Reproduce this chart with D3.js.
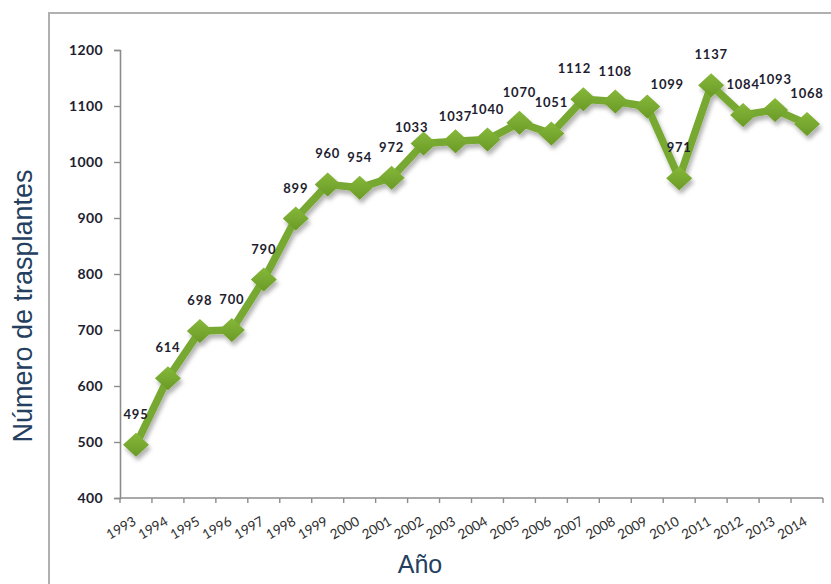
<!DOCTYPE html>
<html>
<head>
<meta charset="utf-8">
<script src="https://cdn.jsdelivr.net/npm/d3@7"></script>
<style>
  html, body { margin: 0; padding: 0; background: #fff; }
  svg { display: block; }
</style>
</head>
<body>
<svg id="chart" width="831" height="584"></svg>
<script>
// Trasplantes realizados por año
const years = ["1993","1994","1995","1996","1997","1998","1999","2000","2001","2002","2003",
               "2004","2005","2006","2007","2008","2009","2010","2011","2012","2013","2014"];
const transplants = [495, 614, 698, 700, 790, 899, 960, 954, 972, 1033, 1037,
                     1040, 1070, 1051, 1112, 1108, 1099, 971, 1137, 1084, 1093, 1068];
const yTicks = [400, 500, 600, 700, 800, 900, 1000, 1100, 1200];

// label nudges where the default spot would collide with the line
const labelNudge = { "2002": [-12, 14], "2003": [0, 6], "2007": [-9, 0], "2009": [20, 8] };

const svg = d3.select("#chart");
const plot = { left: 120, right: 823, top: 50, bottom: 498 };

// outer frame (left and top edges)
svg.append("path")
  .attr("d", "M49,584 L49,13 L831,13")
  .attr("fill", "none").attr("stroke", "#b0b0b0").attr("stroke-width", 2);

const x = d3.scaleBand().domain(years).range([plot.left, plot.right]).padding(0);
const y = d3.scaleLinear().domain([400, 1200]).range([plot.bottom, plot.top]);

const defs = svg.append("defs");
const shadow = defs.append("filter").attr("id", "shadow")
  .attr("x", "-20%").attr("y", "-20%").attr("width", "140%").attr("height", "140%");
shadow.append("feDropShadow").attr("dx", 2).attr("dy", 4).attr("stdDeviation", 2.2)
  .attr("flood-color", "#000").attr("flood-opacity", 0.3);
const grad = defs.append("linearGradient").attr("id", "mk")
  .attr("x1", 0).attr("y1", 0).attr("x2", 0).attr("y2", 1);
grad.append("stop").attr("offset", "0%").attr("stop-color", "#86b83a");
grad.append("stop").attr("offset", "100%").attr("stop-color", "#6a9a26");

// y axis
const yAxis = svg.append("g")
  .attr("transform", `translate(${plot.left},0)`)
  .call(d3.axisLeft(y).tickValues(yTicks).tickSize(6).tickPadding(11).tickFormat(d3.format("d")));
yAxis.select(".domain").attr("stroke", "#8c8c8c").attr("stroke-width", 1.6);
yAxis.selectAll(".tick line").attr("stroke", "#8c8c8c").attr("stroke-width", 1.4);
yAxis.selectAll(".tick text")
  .attr("fill", "#1e1e30")
  .style("font-family", "Lato, 'Open Sans', sans-serif")
  .style("font-weight", 700)
  .style("font-size", "14px")
  .style("letter-spacing", "0.4px");

// x axis: ticks on the category boundaries
const xAxis = svg.append("g").attr("transform", `translate(0,${plot.bottom})`);
xAxis.append("line")
  .attr("x1", plot.left).attr("x2", plot.right)
  .attr("stroke", "#8c8c8c").attr("stroke-width", 1.6);
const bounds = years.map(d => x(d)).concat([x(years[years.length - 1]) + x.bandwidth()]);
xAxis.selectAll("line.tick").data(bounds).join("line")
  .attr("class", "tick")
  .attr("x1", d => d).attr("x2", d => d).attr("y1", 0).attr("y2", 5)
  .attr("stroke", "#8c8c8c").attr("stroke-width", 1.4);
xAxis.selectAll("text").data(years).join("text")
  .attr("transform", d => `translate(${x(d) + x.bandwidth() / 2 + 1},${26}) rotate(-30)`)
  .attr("text-anchor", "end")
  .attr("fill", "#2e2e2e")
  .style("font-family", "Lato, 'Open Sans', sans-serif")
  .style("font-size", "13.5px")
  .text(d => d);

// axis titles
svg.append("text")
  .attr("transform", "translate(32,306) rotate(-90)")
  .attr("text-anchor", "middle")
  .attr("fill", "#243f60")
  .style("font-family", "'Liberation Sans', Arial, sans-serif")
  .style("font-size", "27px")
  .text("Número de trasplantes");
svg.append("text")
  .attr("x", 420).attr("y", 573)
  .attr("text-anchor", "middle")
  .attr("fill", "#243f60")
  .style("font-family", "'Liberation Sans', Arial, sans-serif")
  .style("font-size", "25px")
  .text("Año");

// series
const cx = (d, i) => x(years[i]) + x.bandwidth() / 2;
const series = svg.append("g").attr("filter", "url(#shadow)");
series.append("path")
  .datum(transplants)
  .attr("d", d3.line().x(cx).y(d => y(d)))
  .attr("fill", "none")
  .attr("stroke", "#77a830")
  .attr("stroke-width", 7.5)
  .attr("stroke-linejoin", "round");
const hw = 13, hh = 12;
series.selectAll("path.marker").data(transplants).join("path")
  .attr("class", "marker")
  .attr("d", (d, i) => {
    const px = cx(d, i), py = y(d);
    return `M${px},${py - hh} L${px + hw},${py} L${px},${py + hh} L${px - hw},${py} Z`;
  })
  .attr("fill", "url(#mk)");

// data labels
svg.append("g").selectAll("text").data(transplants).join("text")
  .attr("x", (d, i) => cx(d, i) + (labelNudge[years[i]] ? labelNudge[years[i]][0] : 0))
  .attr("y", (d, i) => y(d) - 26 + (labelNudge[years[i]] ? labelNudge[years[i]][1] : 0))
  .attr("text-anchor", "middle")
  .attr("fill", "#1e1e30")
  .style("font-family", "Lato, 'Open Sans', sans-serif")
  .style("font-weight", 700)
  .style("font-size", "13px")
  .style("letter-spacing", "0.8px")
  .text(d => d);
</script>
</body>
</html>
